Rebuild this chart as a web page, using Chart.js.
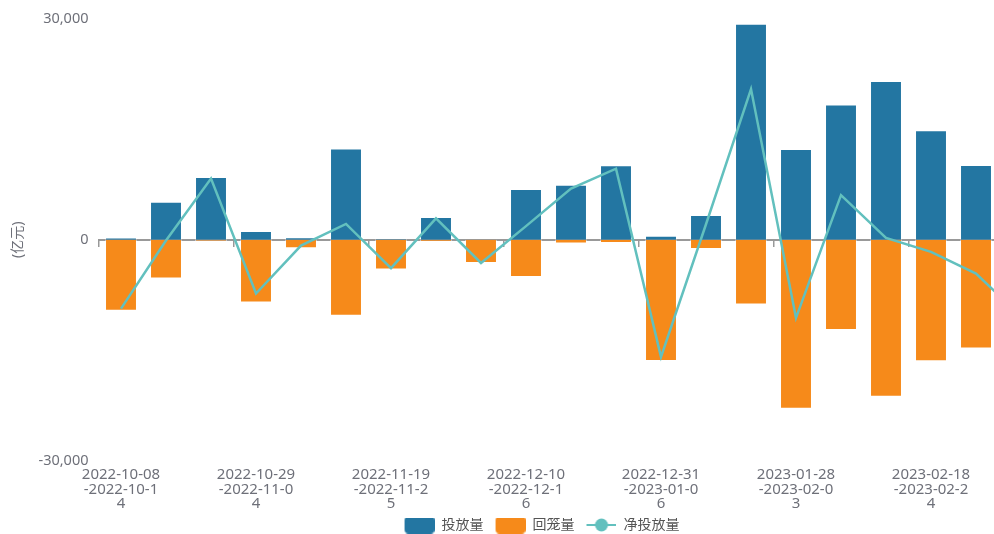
<!DOCTYPE html>
<html>
<head>
<meta charset="utf-8">
<script src="https://cdn.jsdelivr.net/npm/chart.js@4/dist/chart.umd.min.js"></script>
<style>
    html, body { margin: 0; padding: 0; overflow: hidden; background: #fff; }
    #wrap { position: relative; width: 1084px; height: 534px; }
</style>
</head>
<body>
<div id="wrap"><canvas id="flow-chart"></canvas></div>
<script>
// Weekly periods
const weeks = [
    '2022-10-08-2022-10-14', '2022-10-15-2022-10-21', '2022-10-22-2022-10-28',
    '2022-10-29-2022-11-04', '2022-11-05-2022-11-11', '2022-11-12-2022-11-18',
    '2022-11-19-2022-11-25', '2022-11-26-2022-12-02', '2022-12-03-2022-12-09',
    '2022-12-10-2022-12-16', '2022-12-17-2022-12-23', '2022-12-24-2022-12-30',
    '2022-12-31-2023-01-06', '2023-01-07-2023-01-13', '2023-01-14-2023-01-20',
    '2023-01-28-2023-02-03', '2023-02-04-2023-02-10', '2023-02-11-2023-02-17',
    '2023-02-18-2023-02-24', '2023-02-25-2023-03-03', '2023-03-04-2023-03-10'
];

// 亿元
const injection = [300, 5150, 8500, 1200, 350, 12400, 160, 3100, 0, 6900, 7450,
    10100, 550, 3350, 29300, 12300, 18350, 21550, 14850, 10150, 6000];
const withdrawal = [-9650, -5250, -200, -8500, -1150, -10300, -4050, -250, -3150, -5050, -500,
    -450, -16450, -1250, -8800, -22950, -12250, -21300, -16500, -14750, -16400];
const netInjection = [-9350, -100, 8300, -7300, -800, 2150, -3850, 2900, -3150, 1850, 6950,
    9650, -15900, 2100, 20450, -10600, 6050, 250, -1650, -4600, -10400];

const yTicks = [-30000, 0, 30000];
const seriesNames = ['投放量', '回笼量', '净投放量'];

const BLUE = '#2376a2';
const ORANGE = '#f68a1a';
const TEAL = '#62c0be';
const GREY = '#6e7079';

// split long period text into 10-char lines
function wrapLabel(s) {
    const lines = [];
    for (let i = 0; i < s.length; i += 10) lines.push(s.slice(i, i + 10));
    return lines;
}

// legend icons (12px empty gutter on the left acts as item spacing)
const GUTTER = 12;

function boxIcon(color) {
    const c = document.createElement('canvas');
    c.width = 30 + GUTTER; c.height = 17;
    const ctx = c.getContext('2d');
    ctx.fillStyle = color;
    ctx.beginPath();
    ctx.roundRect(GUTTER, 0, 30, 17, 4);
    ctx.fill();
    return c;
}

function lineIcon(color) {
    const c = document.createElement('canvas');
    c.width = 30 + GUTTER; c.height = 16;
    const ctx = c.getContext('2d');
    ctx.strokeStyle = color;
    ctx.lineWidth = 2;
    ctx.beginPath();
    ctx.moveTo(GUTTER, 8); ctx.lineTo(GUTTER + 30, 8);
    ctx.stroke();
    ctx.fillStyle = color;
    ctx.beginPath();
    ctx.arc(GUTTER + 15, 8, 6.5, 0, Math.PI * 2);
    ctx.fill();
    return c;
}

const legendOrder = [1, 2, 0];
const legendIcons = [boxIcon(BLUE), boxIcon(ORANGE), lineIcon(TEAL)];

const tickFont = { family: "'Noto Sans', sans-serif", size: 15, lineHeight: 0.96 };

new Chart(document.getElementById('flow-chart'), {
    type: 'bar',
    data: {
        labels: weeks.map(wrapLabel),
        datasets: [
            {
                type: 'line',
                label: seriesNames[2],
                data: netInjection,
                borderColor: TEAL,
                backgroundColor: TEAL,
                borderWidth: 2.5,
                tension: 0,
                pointRadius: 0,
                order: 0
            },
            {
                label: seriesNames[0],
                data: injection,
                backgroundColor: BLUE,
                borderColor: 'rgba(255,255,255,0.45)',
                borderWidth: 1,
                grouped: false,
                categoryPercentage: 0.71,
                barPercentage: 1,
                order: 1
            },
            {
                label: seriesNames[1],
                data: withdrawal,
                backgroundColor: ORANGE,
                borderColor: 'rgba(255,255,255,0.45)',
                borderWidth: 1,
                grouped: false,
                categoryPercentage: 0.71,
                barPercentage: 1,
                order: 1
            }
        ]
    },
    options: {
        responsive: true,
        maintainAspectRatio: false,
        animation: false,
        layout: { padding: { top: 12, right: 40.5, left: 28.5, bottom: -8 } },
        plugins: {
            tooltip: { enabled: false },
            legend: {
                position: 'bottom',
                labels: {
                    usePointStyle: true,
                    pointStyleWidth: 30 + GUTTER,
                    boxHeight: 17,
                    padding: 0,
                    color: '#555',
                    font: { family: "'Noto Sans', 'Noto Sans CJK SC', sans-serif", size: 14 },
                    generateLabels: chart => legendOrder.map((i, k) => ({
                        text: chart.data.datasets[i].label,
                        pointStyle: legendIcons[k],
                        fillStyle: chart.data.datasets[i].backgroundColor,
                        strokeStyle: chart.data.datasets[i].backgroundColor,
                        lineWidth: 0,
                        fontColor: '#555',
                        hidden: !chart.isDatasetVisible(i),
                        datasetIndex: i
                    }))
                }
            }
        },
        scales: {
            x: {
                type: 'category',
                offset: true,
                grid: { display: false, drawTicks: false, offset: true },
                border: { display: false },
                ticks: {
                    autoSkip: false,
                    maxRotation: 0,
                    minRotation: 0,
                    padding: 7,
                    color: GREY,
                    font: tickFont,
                    callback: function (value, index) {
                        return index % 3 === 0 ? this.getLabelForValue(value) : '';
                    }
                }
            },
            x2: {
                type: 'category',
                position: { y: 0 },
                offset: true,
                grid: {
                    offset: true,
                    drawOnChartArea: false,
                    tickLength: 6,
                    lineWidth: 1.5,
                    color: ctx => ctx.index % 3 === 0 ? '#999' : 'rgba(0,0,0,0)'
                },
                border: { color: '#999', width: 2 },
                ticks: { display: false },
                afterFit: scale => { scale.height = 0; }
            },
            y: {
                min: yTicks[0],
                max: yTicks[2],
                grid: { display: false, drawTicks: false },
                border: { display: false },
                afterBuildTicks: scale => {
                    scale.ticks = yTicks.map(v => ({ value: v }));
                },
                afterFit: scale => { scale.width = 70; },
                ticks: {
                    padding: 10,
                    color: GREY,
                    font: { family: "'Noto Sans', sans-serif", size: 14.5 },
                    callback: value => value.toLocaleString('en-US')
                },
                title: {
                    display: true,
                    text: '(亿元)',
                    color: GREY,
                    padding: { top: -18.5, bottom: 4 },
                    font: { family: "'Noto Sans', 'Noto Sans CJK SC', sans-serif", size: 14 }
                }
            }
        }
    }
});
</script>
</body>
</html>
